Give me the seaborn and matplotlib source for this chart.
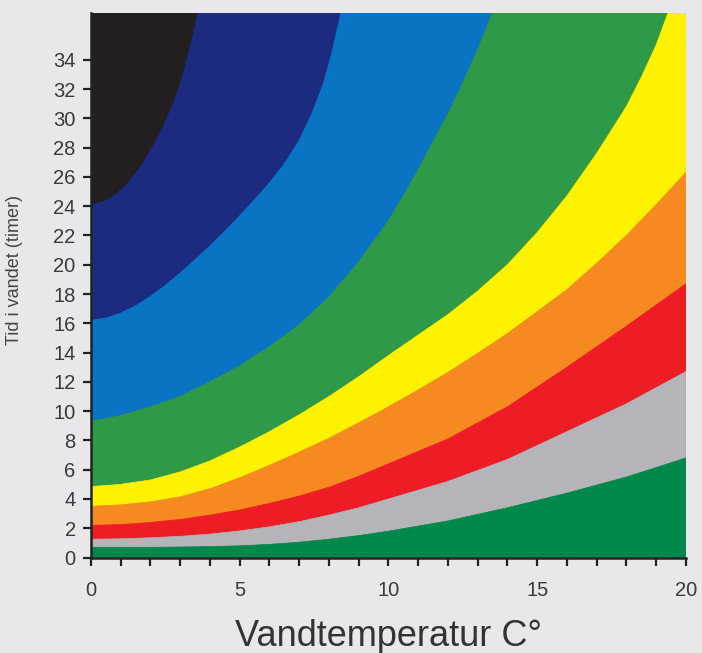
import numpy as np
import matplotlib
matplotlib.use("Agg")
import matplotlib.pyplot as plt
import seaborn as sns

# Band boundaries: (water temperature, hours) points, bottom to top
grid_x = [0, 1, 2, 3, 4, 5, 6, 7, 8, 9, 10, 11, 12, 13, 14, 15, 16, 17, 18, 19, 20]

green_gray_y = [0.70, 0.70, 0.70, 0.72, 0.75, 0.80, 0.90, 1.05, 1.25, 1.50, 1.80,
                2.15, 2.50, 2.95, 3.40, 3.90, 4.40, 4.95, 5.50, 6.15, 6.80]
gray_red_y = [1.25, 1.28, 1.35, 1.45, 1.60, 1.82, 2.10, 2.45, 2.90, 3.40, 4.00,
              4.60, 5.20, 5.95, 6.70, 7.65, 8.60, 9.55, 10.50, 11.60, 12.70]
red_orange_y = [2.20, 2.25, 2.40, 2.60, 2.90, 3.25, 3.70, 4.20, 4.80, 5.55, 6.40,
                7.25, 8.10, 9.20, 10.30, 11.65, 13.00, 14.40, 15.80, 17.25, 18.70]
orange_yellow_y = [3.50, 3.60, 3.80, 4.15, 4.70, 5.45, 6.30, 7.20, 8.15, 9.20, 10.30,
                   11.45, 12.65, 13.95, 15.30, 16.80, 18.30, 20.10, 22.00, 24.10, 26.30]

yellow_green_x = [0, 1, 2, 3, 4, 5, 6, 7, 8, 9, 10, 11, 12, 13, 14, 15, 16, 17, 18,
                  18.5, 19.0, 19.4]
yellow_green_y = [4.85, 5.0, 5.3, 5.85, 6.6, 7.55, 8.6, 9.75, 11.0, 12.35, 13.8,
                  15.2, 16.6, 18.2, 20.0, 22.2, 24.7, 27.6, 30.8, 32.8, 35.0, 37.2]

green_blue_x = [0, 1, 2, 3, 4, 5, 6, 7, 8, 9, 10, 10.5, 11, 11.5, 12, 12.5, 13.0, 13.5]
green_blue_y = [9.3, 9.7, 10.3, 11.0, 12.0, 13.1, 14.4, 15.9, 17.8, 20.2, 23.0,
                24.7, 26.5, 28.4, 30.3, 32.4, 34.7, 37.2]

blue_navy_x = [0, 0.5, 1, 1.5, 2, 2.5, 3, 3.5, 4, 4.5, 5, 5.5, 6, 6.5, 7.0, 7.4, 7.8,
               8.1, 8.4]
blue_navy_y = [16.2, 16.35, 16.7, 17.2, 17.85, 18.6, 19.45, 20.35, 21.3, 22.3, 23.35,
               24.45, 25.6, 26.9, 28.5, 30.2, 32.3, 34.5, 37.2]

navy_black_x = [0, 0.4, 0.8, 1.2, 1.6, 2.0, 2.4, 2.8, 3.0, 3.2, 3.4, 3.6]
navy_black_y = [24.1, 24.3, 24.75, 25.5, 26.5, 27.8, 29.3, 31.2, 32.4, 33.8, 35.4, 37.2]

# colours of the bands, bottom to top
band_colors = ["#00884a", "#b4b4b9", "#ee1c25", "#f6891f", "#fff200",
               "#2e9a48", "#0a74c4", "#1c2a80", "#231e1f"]

y_ticks = list(range(0, 35, 2))
x_ticks = [0, 5, 10, 15, 20]
x_max = 20
y_top = 37.2

sns.set_style("white")
plt.rcParams['font.family'] = ['Liberation Sans', 'DejaVu Sans']

fig = plt.figure(figsize=(7.02, 6.53), dpi=100, facecolor="#e8e8ea")
ax = fig.add_axes([0.1296, 0.1462, 0.8474, 0.834])
ax.set_facecolor("#e8e8ea")

curves = [
    (grid_x, green_gray_y),
    (grid_x, gray_red_y),
    (grid_x, red_orange_y),
    (grid_x, orange_yellow_y),
    (yellow_green_x, yellow_green_y),
    (green_blue_x, green_blue_y),
    (blue_navy_x, blue_navy_y),
    (navy_black_x, navy_black_y),
]

# top band fills the whole plotting area, then each band below is painted over it
ax.fill([0, x_max, x_max, 0], [0, 0, y_top, y_top], color=band_colors[-1], lw=0)
for k in range(len(curves) - 1, -1, -1):
    cx, cy = curves[k]
    px = [0] + list(cx)
    py = [0] + list(cy)
    if cx[-1] < x_max:
        px += [x_max]
        py += [y_top]
    px += [x_max]
    py += [0]
    c = band_colors[k]
    ax.fill(px, py, facecolor=c, edgecolor=c, lw=0.5, antialiased=True)

ax.set_xlim(0, x_max)
ax.set_ylim(0, y_top)
ax.set_xticks(x_ticks)
ax.set_xticks(range(0, 21), minor=True)
ax.set_yticks(y_ticks)

ax.tick_params(axis="both", which="both", direction="out", length=6, width=1.6,
               color="#222222", labelsize=14.5, labelcolor="#3a3a3a", pad=5,
               bottom=True, left=True)
ax.tick_params(axis="x", which="major", pad=11)

for s in ["top", "right"]:
    ax.spines[s].set_visible(False)
for s in ["left", "bottom"]:
    ax.spines[s].set_color("#222222")
    ax.spines[s].set_linewidth(1.8)

ax.set_xlabel("Vandtemperatur C°", fontsize=26, color="#333333")
ax.xaxis.set_label_coords(0.5, -0.112)
ax.set_ylabel("Tid i vandet (timer)", fontsize=13, color="#444444")
ax.yaxis.set_label_coords(-0.114, 0.528)

fig.savefig("out.png", dpi=100, facecolor=fig.get_facecolor())
